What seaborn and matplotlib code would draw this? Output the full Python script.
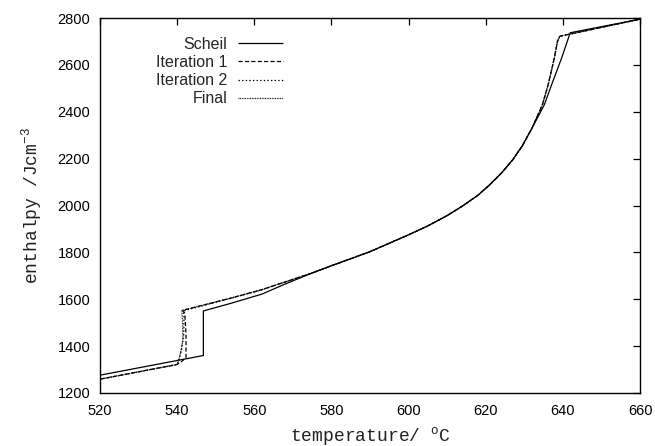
import matplotlib
matplotlib.use("Agg")
import matplotlib.pyplot as plt
import seaborn as sns
import pandas as pd

# temperature (C) / enthalpy (J cm^-3)
scheil_T = [520, 546.8, 546.8, 554, 562, 568, 575, 580, 590, 600, 605, 610, 614, 618,
            621, 624, 627, 629.5, 632, 635.2, 637.1, 639.7, 641.9, 660]
scheil_H = [1276, 1360, 1550, 1583, 1622, 1665, 1712, 1743, 1803, 1875, 1913, 1957, 1998, 2044,
            2088, 2137, 2195, 2255, 2330, 2430, 2516, 2630, 2737, 2795]

# lower parts of the iterations (around the eutectic jump)
iter1_T = [520, 540, 541.2, 542.3, 542.3, 542.0, 541.4]
iter1_H = [1259, 1322, 1335, 1350, 1450, 1540, 1553]
iter2_T = [520, 540, 540.6, 541.2, 541.7, 541.8, 541.6]
iter2_H = [1259, 1322, 1350, 1390, 1450, 1520, 1550]
final_T = [520, 540, 540.5, 541.0, 541.5, 541.4, 541.2]
final_H = [1259, 1321, 1345, 1380, 1430, 1510, 1552]

# upper part shared by the iterations
upper_T = [554, 562, 568.4, 575, 580, 590, 600, 605, 610, 614, 618, 621, 624, 627,
           629.5, 632, 634.7, 636.2, 637.8, 638.6, 639.2, 660]
upper_H = [1605, 1641, 1676, 1712, 1743, 1803, 1875, 1913, 1957, 1998, 2044, 2088, 2137, 2195,
           2255, 2330, 2430, 2516, 2630, 2700, 2722, 2795]

series = {
    "Scheil": (scheil_T, scheil_H),
    "Iteration 1": (iter1_T + upper_T, iter1_H + upper_H),
    "Iteration 2": (iter2_T + upper_T, iter2_H + upper_H),
    "Final": (final_T + upper_T, final_H + upper_H),
}
styles = {
    "Scheil": (0, ()),
    "Iteration 1": (0, (3, 1.6)),
    "Iteration 2": (0, (1, 1.6)),
    "Final": (0, (0.6, 0.6)),
}

sns.set_theme(style="white")
plt.rcParams["font.family"] = ["Liberation Sans", "DejaVu Sans"]
plt.rcParams["lines.scale_dashes"] = False
plt.rcParams["mathtext.fontset"] = "custom"
plt.rcParams["mathtext.rm"] = "Liberation Mono"

fig = plt.figure(figsize=(6.55, 4.46), dpi=100)
ax = fig.add_axes([100/655, 1-393/446, 540/655, 375/446])

for name, (t, h) in series.items():
    df = pd.DataFrame({"T": t, "H": h})
    sns.lineplot(data=df, x="T", y="H", sort=False, estimator=None, ax=ax,
                 color="black", lw=0.9, label=name)
    ax.lines[-1].set_linestyle(styles[name])

ax.set_xlim(520, 660)
ax.set_ylim(1200, 2800)
ax.set_xticks(range(520, 661, 20))
ax.set_yticks(range(1200, 2801, 200))
ax.tick_params(direction="in", length=5, width=0.9, top=True, right=True,
               labelsize=10.5, colors="black")
ax.tick_params(axis="x", pad=8)
ax.tick_params(axis="y", pad=7)
for s in ax.spines.values():
    s.set_linewidth(1.0)
    s.set_color("black")

ax.set_xlabel(r"temperature/ $^{\mathrm{o}}$C", family="Liberation Mono", fontsize=13,
              labelpad=5, color="#222222")
ax.set_ylabel(r"enthalpy /Jcm$^{\mathrm{-3}}$", family="Liberation Mono", fontsize=13,
              labelpad=10, color="#222222")

leg = ax.legend(loc="upper right", bbox_to_anchor=(0.339, 0.95), frameon=False,
                markerfirst=False, fontsize=11.5, handlelength=2.8, handletextpad=0.7,
                labelspacing=0.2, borderpad=0, borderaxespad=0)
for line in leg.get_lines():
    line.set_linewidth(0.9)

fig.savefig("out.png", dpi=100)
